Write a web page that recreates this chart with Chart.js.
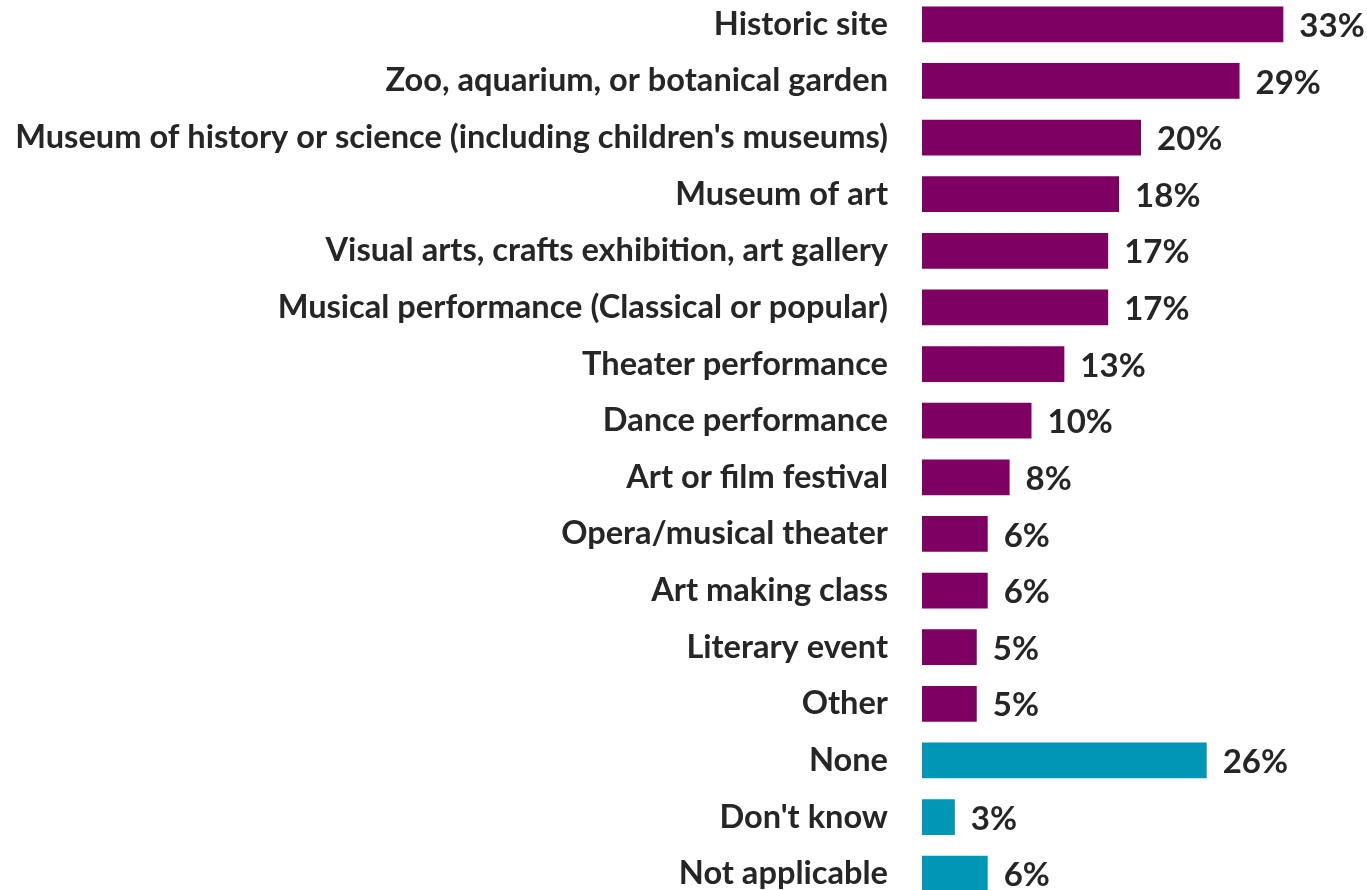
<!DOCTYPE html>
<html>
<head>
<meta charset="utf-8">
<script src="https://cdn.jsdelivr.net/npm/chart.js@4.4.1/dist/chart.umd.min.js"></script>
<style>
  html, body { margin: 0; padding: 0; background: #fff; overflow: hidden; }
  #grafico { position: absolute; left: 0; top: -4px; }
</style>
</head>
<body>
<canvas id="grafico" width="1367" height="906"></canvas>
<script>
const categorias = [
  'Historic site',
  'Zoo, aquarium, or botanical garden',
  "Museum of history or science (including children's museums)",
  'Museum of art',
  'Visual arts, crafts exhibition, art gallery',
  'Musical performance (Classical or popular)',
  'Theater performance',
  'Dance performance',
  'Art or film festival',
  'Opera/musical theater',
  'Art making class',
  'Literary event',
  'Other',
  'None',
  "Don't know",
  'Not applicable'
];
const valores = [33, 29, 20, 18, 17, 17, 13, 10, 8, 6, 6, 5, 5, 26, 3, 6];
const grupoNinguno = ['None', "Don't know", 'Not applicable'];

const morado = '#7d0062';
const turquesa = '#0096b5';
const colorTexto = '#262626';

const colores = categorias.map(c => grupoNinguno.includes(c) ? turquesa : morado);

// etiquetas de porcentaje al final de cada barra
const etiquetasBarras = {
  id: 'etiquetasBarras',
  afterDatasetsDraw(chart) {
    const ctx = chart.ctx;
    const meta = chart.getDatasetMeta(0);
    ctx.save();
    ctx.font = 'bold 33px Lato';
    ctx.fillStyle = colorTexto;
    ctx.textAlign = 'left';
    ctx.textBaseline = 'middle';
    meta.data.forEach((bar, i) => {
      ctx.fillText(valores[i] + '%', bar.x + 16, bar.y + 2);
    });
    ctx.restore();
  }
};

new Chart(document.getElementById('grafico'), {
  type: 'bar',
  data: {
    labels: categorias,
    datasets: [{
      data: valores,
      backgroundColor: colores,
      borderWidth: 0,
      categoryPercentage: 1,
      barPercentage: 0.63
    }]
  },
  options: {
    indexAxis: 'y',
    responsive: false,
    animation: false,
    layout: { padding: { left: 0, right: 7, top: 0, bottom: 0 } },
    plugins: {
      legend: { display: false },
      tooltip: { enabled: false }
    },
    scales: {
      x: {
        display: false,
        min: 0,
        max: 40
      },
      y: {
        grid: { display: false, drawTicks: false },
        border: { display: false },
        ticks: {
          padding: 34,
          color: colorTexto,
          autoSkip: false,
          font: { family: 'Lato', weight: 'bold', size: 32.6 }
        },
        afterFit(scale) {
          scale.width = 922;
          scale.paddingTop = 0;
          scale.paddingBottom = 0;
        }
      }
    }
  },
  plugins: [etiquetasBarras]
});
</script>
</body>
</html>
